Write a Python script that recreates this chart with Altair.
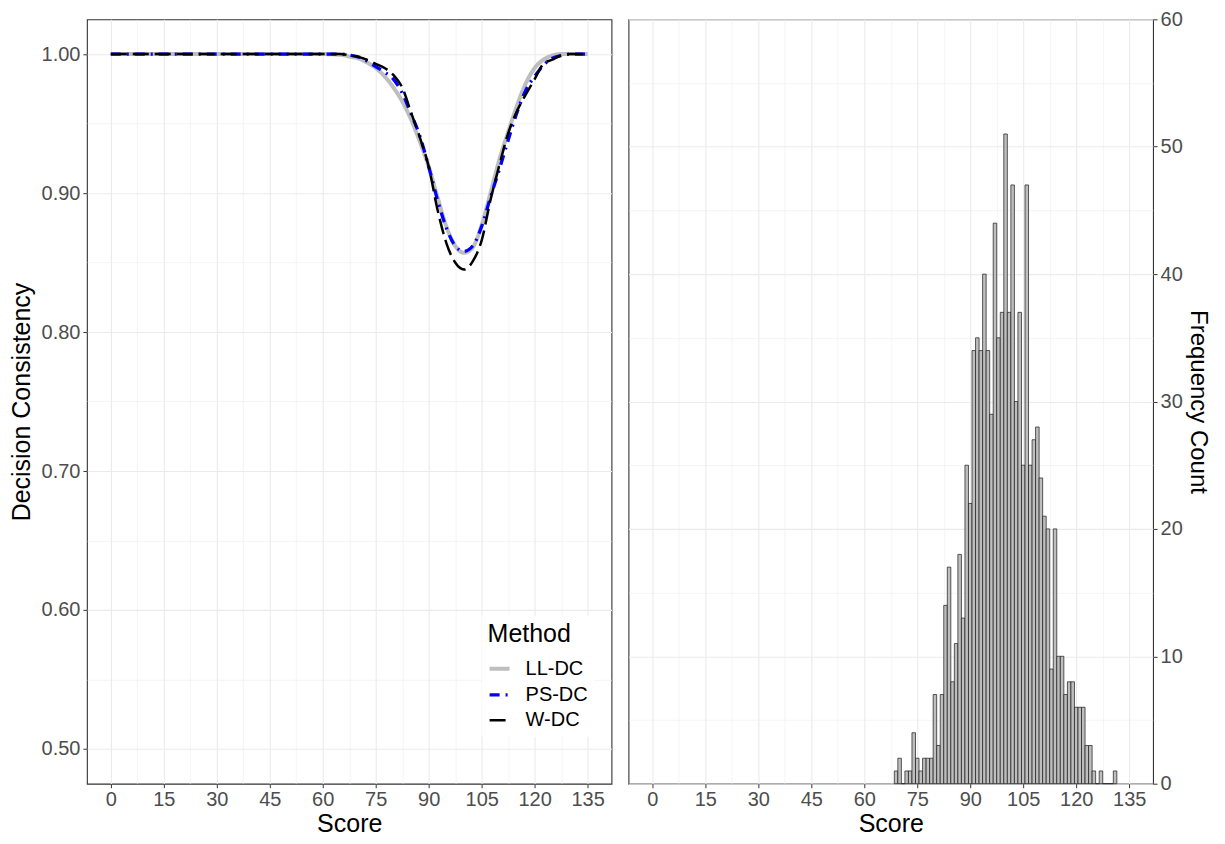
import altair as alt
import pandas as pd

# ---------------- data ----------------
methods = ["LL-DC", "PS-DC", "W-DC"]
scores = [0, 20, 40, 60, 65, 68, 70, 72.5, 75, 77.5, 80, 82.5, 85, 87.5, 90, 92.5,
          95, 97.5, 100, 102.5, 105, 107.5, 110, 112.5, 115, 117.5, 120, 122.5,
          125, 127.5, 130, 135]
ll_dc = [1.0, 1.0, 1.0, 1.0, 0.9995, 0.998, 0.997, 0.994, 0.990, 0.984, 0.976, 0.966,
         0.953, 0.937, 0.919, 0.897, 0.876, 0.862, 0.857, 0.861, 0.877, 0.900, 0.924,
         0.944, 0.963, 0.979, 0.990, 0.996, 0.999, 1.0, 1.0, 1.0]
ps_dc = [1.0, 1.0, 1.0, 1.0, 1.0, 0.999, 0.998, 0.995, 0.991, 0.987, 0.982, 0.972,
         0.957, 0.941, 0.919, 0.895, 0.875, 0.862, 0.858, 0.862, 0.876, 0.897, 0.917,
         0.938, 0.958, 0.974, 0.984, 0.992, 0.997, 0.999, 1.0, 1.0]
w_dc = [1.0, 1.0, 1.0, 1.0, 1.0, 0.999, 0.998, 0.996, 0.993, 0.990, 0.985, 0.976,
        0.958, 0.940, 0.919, 0.888, 0.864, 0.850, 0.845, 0.851, 0.866, 0.895, 0.920,
        0.943, 0.959, 0.971, 0.982, 0.993, 0.996, 0.999, 1.0, 1.0]

hist_scores = list(range(69, 132))
hist_counts = [1, 2, 0, 1, 1, 4, 2, 1, 2, 2, 2, 7, 3, 7, 14, 17, 8, 11, 18, 13,
               25, 22, 34, 35, 34, 40, 34, 29, 44, 35, 37, 51, 37, 47, 30, 37, 25, 47,
               25, 27, 28, 24, 21, 20, 9, 20, 10, 10, 7, 8, 8, 6, 6, 6, 3, 3, 1, 0, 1,
               0, 0, 0, 1]

x_ticks = [i * 7.5 for i in range(19)]
y_ticks_left = [round(0.5 + 0.05 * i, 2) for i in range(11)]
y_ticks_right = [5 * i for i in range(13)]

# ---------------- tables ----------------
rows = []
for m, vals in zip(methods, [ll_dc, ps_dc, w_dc]):
    for s, v in zip(scores, vals):
        rows.append({"Score": s, "DC": v, "Method": m})
line_df = pd.DataFrame(rows)

hist_df = pd.DataFrame({"score": hist_scores, "count": hist_counts})
hist_df["left"] = hist_df["score"] - 0.5
hist_df["right"] = hist_df["score"] + 0.5

FONT = "Liberation Sans"
W, H = 525, 765

major_x = "datum.value % 15 === 0"
major_yl = "abs(datum.value * 10 - round(datum.value * 10)) < 0.001"
major_yr = "datum.value % 10 === 0"


def cond(test, a, b):
    return {"condition": {"test": test, "value": a}, "value": b}


def x_axis():
    return alt.Axis(values=x_ticks, title="Score", format="d",
                    labelExpr=f"{major_x} ? datum.label : ''",
                    tickOpacity=cond(major_x, 1, 0),
                    gridWidth=cond(major_x, 1.1, 0.55),
                    labelPadding=2, titlePadding=2)


x_scale = alt.Scale(domain=[-6.75, 141.75], nice=False, zero=False)

legend = alt.Legend(title="Method", orient="none", legendX=395, legendY=597,
                    fillColor="white", padding=6, titleFontSize=25,
                    titleFontWeight="normal", titleColor="black", titleFont=FONT,
                    titlePadding=10, labelFontSize=20, labelColor="black",
                    labelFont=FONT, symbolType="stroke", symbolSize=400,
                    rowPadding=4, labelOffset=14)

left = alt.Chart(line_df).mark_line(interpolate="monotone").encode(
    x=alt.X("Score:Q", scale=x_scale, axis=x_axis()),
    y=alt.Y("DC:Q", scale=alt.Scale(domain=[0.475, 1.025], nice=False, zero=False),
            axis=alt.Axis(values=y_ticks_left, title="Decision Consistency",
                          format=".2f",
                          labelExpr=f"{major_yl} ? datum.label : ''",
                          tickOpacity=cond(major_yl, 1, 0),
                          gridWidth=cond(major_yl, 1.1, 0.55),
                          labelPadding=3, titlePadding=7)),
    color=alt.Color("Method:N", scale=alt.Scale(domain=methods,
                    range=["#BEBEBE", "#0000FF", "#000000"]), legend=legend),
    strokeDash=alt.StrokeDash("Method:N", scale=alt.Scale(domain=methods,
                              range=[[1, 0], [10, 6, 2, 6], [16, 6]]), legend=legend),
    strokeWidth=alt.StrokeWidth("Method:N", scale=alt.Scale(domain=methods,
                                range=[4, 2.5, 3.3]), legend=legend),
    order=alt.Order("Score:Q"),
).properties(width=W, height=H)

right = alt.Chart(hist_df).mark_rect(fill="#BEBEBE", stroke="#1A1A1A",
                                     strokeWidth=0.7).encode(
    x=alt.X("left:Q", scale=x_scale, axis=x_axis()),
    x2="right:Q",
    y=alt.Y("count:Q", scale=alt.Scale(domain=[0, 60], nice=False),
            axis=alt.Axis(orient="right", values=y_ticks_right,
                          title="Frequency Count", titleFontSize=24,
                          labelExpr=f"{major_yr} ? datum.label : ''",
                          tickOpacity=cond(major_yr, 1, 0),
                          gridWidth=cond(major_yr, 1.1, 0.55),
                          labelPadding=3, titlePadding=3)),
    y2=alt.datum(0),
).properties(width=W, height=H)

chart = alt.hconcat(left, right, spacing=15).resolve_legend(
    color="independent", strokeDash="independent", strokeWidth="independent"
).resolve_scale(x="independent", y="independent").properties(
    padding={"left": 0, "top": 0, "right": 7, "bottom": 0},
    background="white",
).configure_axis(
    labelFont=FONT, titleFont=FONT, labelFontSize=20, labelColor="#4D4D4D",
    titleFontSize=25, titleFontWeight="normal", titleColor="black",
    tickColor="#333333", tickSize=4, tickWidth=1, gridColor="#EBEBEB",
    domain=False, labelFlush=False,
).configure_view(stroke="#333333", strokeWidth=1.1)

chart.save("out.html", embed_options={"renderer": "svg", "actions": False})
